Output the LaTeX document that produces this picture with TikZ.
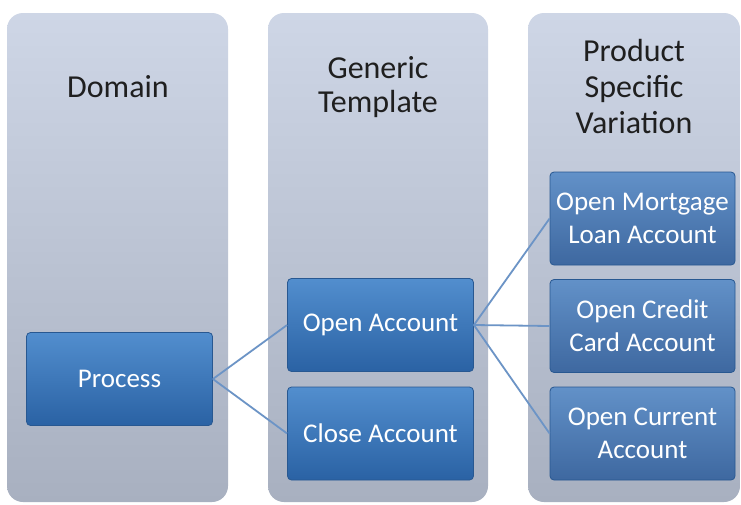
\documentclass[tikz,border=0pt]{standalone}
\usepackage{fontspec}
\setmainfont{Carlito}
\definecolor{colTop}{RGB}{206,214,230}
\definecolor{colBot}{RGB}{168,176,192}
\definecolor{boxTop}{RGB}{82,142,206}
\definecolor{boxBot}{RGB}{42,98,164}
\definecolor{boxEdge}{RGB}{40,88,145}
\definecolor{boxTopB}{RGB}{98,145,200}
\definecolor{boxBotB}{RGB}{62,104,160}
\definecolor{linkC}{RGB}{108,148,198}
\begin{document}
\begin{tikzpicture}[x=1pt,y=-1pt,
  col/.style={rounded corners=16pt, top color=colTop, bottom color=colBot, draw=none, inner sep=0pt},
  box/.style={rounded corners=4pt, top color=boxTop, bottom color=boxBot, draw=boxEdge, line width=0.8pt,
    text=white, font=\fontsize{27}{33}\selectfont, align=center, inner sep=0pt,
    minimum width=186pt, minimum height=93pt},
  boxb/.style={box, top color=boxTopB, bottom color=boxBotB, minimum width=185pt},
  head/.style={font=\fontsize{32}{36}\selectfont, align=center, text=black!88},
  link/.style={draw=linkC, line width=1.8pt}]
\useasboundingbox (0,0) rectangle (741,504);
\fill[white] (0,0) rectangle (741,504);
% columns
\node[col, minimum width=221pt, minimum height=489pt] (c1) at (117.5,257.5) {};
\node[col, minimum width=220pt, minimum height=489pt] (c2) at (378,257.5) {};
\node[col, minimum width=212pt, minimum height=489pt] (c3) at (634,257.5) {};
% headings
\node[head] (h1) at (118,87) {Domain};
\node[head, font=\fontsize{32}{34}\selectfont] (h2) at (378,87) {Generic\\Template};
\node[head] (h3) at (634,87) {Product\\Specific\\Variation};
% boxes
\node[box] (proc) at (119.5,379) {Process};
\node[box] (open) at (380.5,325) {Open Account};
\node[box] (close) at (380.5,433.5) {Close Account};
\node[boxb] (mort) at (642.5,218.5) {Open Mortgage\\Loan Account};
\node[boxb] (cred) at (642.5,326) {Open Credit\\Card Account};
\node[boxb] (curr) at (642.5,433.5) {Open Current\\Account};
% links
\draw[link] (proc.east) -- (open.west);
\draw[link] (proc.east) -- (close.west);
\draw[link] (open.east) -- (mort.west);
\draw[link] (open.east) -- (cred.west);
\draw[link] (open.east) -- (curr.west);
\end{tikzpicture}
\end{document}
